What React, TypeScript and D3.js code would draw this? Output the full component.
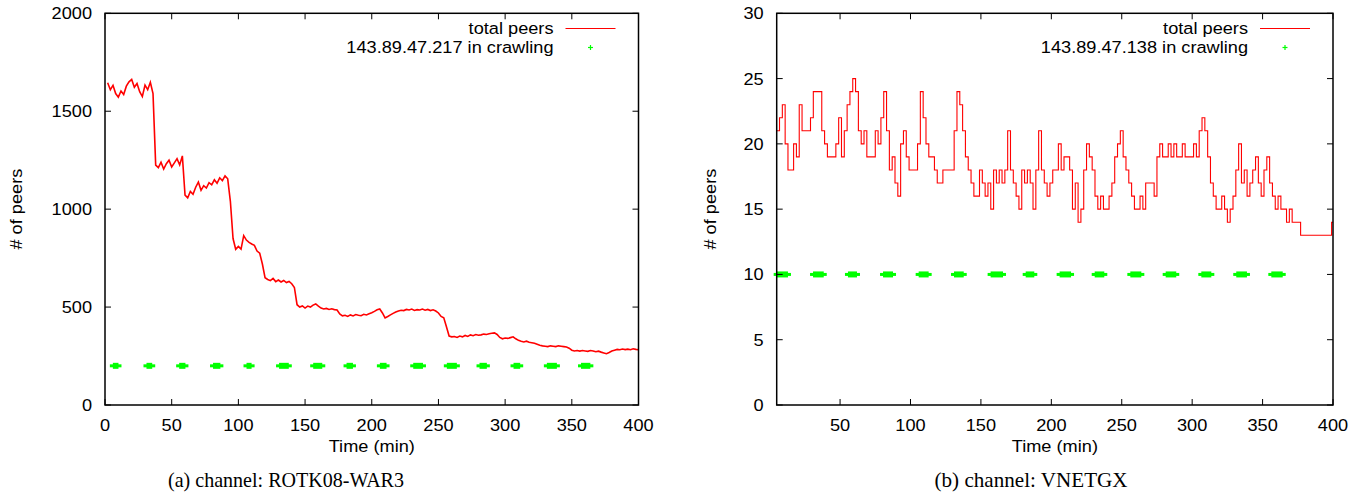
import React from 'react';
import * as d3 from 'd3';

// ---------- DATA ----------
// (a) ROTK08-WAR3: total peers sampled every 2 min starting at t=2
const leftTimeStart = 2;
const leftTimeStep = 2;
const leftPeers = [
  1645, 1610, 1632, 1590, 1572, 1603, 1585, 1628, 1650, 1662,
  1622, 1641, 1600, 1575, 1633, 1610, 1648, 1590, 1225, 1212,
  1240, 1205, 1232, 1250, 1215, 1236, 1258, 1226, 1272, 1072,
  1058, 1090, 1076, 1112, 1138, 1096, 1120, 1108, 1135, 1124,
  1150, 1132, 1160, 1146, 1170, 1155, 1040, 850, 795, 810,
  796, 865, 842, 830, 822, 815, 786, 775, 720, 650,
  641, 635, 646, 630, 638, 628, 636, 625, 631, 619,
  600, 512, 500, 506, 495, 505, 500, 510, 516, 505,
  495, 490, 493, 488, 491, 487, 485, 465, 455, 458,
  452, 460, 455, 462, 458, 456, 463, 460, 466, 471,
  478, 486, 490, 470, 445, 452, 460, 468, 475, 480,
  484, 482, 488, 485, 490, 483, 487, 485, 490, 484,
  488, 482, 486, 480, 470, 452, 445, 400, 352, 348,
  350, 345, 352, 348, 355, 350, 358, 354, 360, 356,
  358, 362, 360, 364, 366, 368, 360, 345, 338, 342,
  340, 344, 348, 338, 330, 325, 322, 326, 320, 318,
  315, 310, 305, 302, 300, 298, 302, 300, 298, 302,
  300, 298, 296, 290, 280, 276, 278, 275, 278, 276,
  274, 278, 276, 272, 275, 270, 266, 262, 268, 276,
  280, 284, 282, 286, 283, 285, 282, 287, 284, 282,
];
// crawl sessions [start, end] in minutes, drawn at the crawl level
const leftCrawls: [number, number][] = [
  [5.9, 10.1], [31.1, 35.4], [55.6, 60.3], [81.0, 86.5], [106.1, 109.9],
  [130.5, 137.8], [156.1, 162.9], [181.1, 185.9], [206.1, 211.1], [231.1, 238.4],
  [256.3, 263.8], [280.8, 286.3], [306.3, 311.3], [331.3, 338.8], [356.9, 363.9],
];
const leftCrawlLevel = 200;
const leftXTicks = [0, 50, 100, 150, 200, 250, 300, 350, 400];
const leftYTicks = [0, 500, 1000, 1500, 2000];
const leftCrawlerLabel = '143.89.47.217 in crawling';
const leftCaption = '(a) channel: ROTK08-WAR3';

// (b) VNETGX: total peers sampled every 2 min starting at t=5
const rightTimeStart = 5;
const rightTimeStep = 2;
const rightPeers = [
  21, 22, 23, 20, 18, 18, 20, 19, 23, 21,
  21, 21, 22, 24, 24, 24, 21, 20, 19, 19,
  19, 20, 22, 19, 21, 23, 24, 25, 24, 21,
  20, 21, 19, 19, 19, 21, 20, 22, 24, 21,
  18, 19, 17, 16, 20, 21, 19, 18, 18, 18,
  20, 24, 22, 20, 19, 19, 18, 17, 17, 18,
  18, 18, 18, 21, 24, 23, 21, 19, 18, 17,
  16, 16, 18, 17, 16, 17, 15, 18, 17, 18,
  17, 18, 21, 18, 17, 16, 15, 18, 17, 18,
  17, 15, 18, 21, 18, 17, 16, 17, 18, 18,
  20, 18, 19, 19, 18, 15, 17, 14, 15, 18,
  20, 19, 18, 16, 15, 16, 15, 15, 16, 17,
  19, 20, 21, 19, 18, 17, 16, 15, 15, 16,
  15, 17, 17, 17, 16, 19, 20, 19, 19, 20,
  19, 20, 19, 19, 20, 19, 19, 19, 20, 19,
  21, 22, 21, 19, 17, 16, 15, 15, 16, 15,
  14, 15, 16, 18, 20, 17, 18, 16, 17, 18,
  19, 17, 16, 18, 19, 17, 16, 15, 16, 15,
  15, 14, 15, 14, 14, 14, 13, 13, 13, 13,
  13, 13, 13, 13, 13, 13, 13, 14,
];
const rightCrawls: [number, number][] = [
  [5.0, 13.0], [30.8, 38.4], [55.6, 62.0], [80.5, 87.6], [105.8, 112.9],
  [130.9, 137.8], [156.9, 165.7], [181.8, 187.9], [205.9, 214.0], [230.8, 237.6],
  [256.1, 263.9], [281.2, 288.7], [306.5, 313.6], [331.3, 338.9], [356.2, 364.3],
];
const rightCrawlLevel = 10;
const rightXTicks = [50, 100, 150, 200, 250, 300, 350, 400];
const rightYTicks = [0, 5, 10, 15, 20, 25, 30];
const rightCrawlerLabel = '143.89.47.138 in crawling';
const rightCaption = '(b) channel: VNETGX';

const totalLabel = 'total peers';
const xAxisLabel = 'Time (min)';
const yAxisLabel = '# of peers';

// ---------- STYLE ----------
const RED = '#ff0000';
const GREEN = '#00ff00';
const SANS = "'Liberation Sans', Arial, Helvetica, sans-serif";
const SERIF = "'Liberation Serif', 'DejaVu Serif', serif";
const FS = 17;
const STRETCH = 1.07;

function Label(props: {
  x: number; y: number; anchor?: string; rotate?: number; size?: number; children: React.ReactNode;
}) {
  const { x, y, anchor = 'start', rotate, size = FS, children } = props;
  const tr = `translate(${x},${y})${rotate ? ` rotate(${rotate})` : ''} scale(${STRETCH},1)`;
  return (
    <g transform={tr}>
      <text textAnchor={anchor as any} fontSize={size} fontFamily={SANS} fill="#000">
        {children}
      </text>
    </g>
  );
}

interface PanelProps {
  left: number; right: number; top: number; bottom: number;
  xDomain: [number, number]; yDomain: [number, number];
  xTicks: number[]; yTicks: number[];
  values: number[]; tStart: number; tStep: number; stepCurve: boolean; lineWidth: number;
  crawls: [number, number][]; crawlLevel: number;
  crawlerLabel: string; yLabelX: number; caption: string; captionWidth: number; captionX: number;
}

function Panel(p: PanelProps) {
  const x = d3.scaleLinear().domain(p.xDomain).range([p.left, p.right]);
  const y = d3.scaleLinear().domain(p.yDomain).range([p.bottom, p.top]);
  const pts: [number, number][] = p.values.map((v, i) => [p.tStart + i * p.tStep, v]);
  if (p.stepCurve) pts.push([p.xDomain[1], p.values[p.values.length - 1]]);
  const line = d3
    .line<[number, number]>()
    .x((d) => x(d[0]))
    .y((d) => y(d[1]))
    .curve(p.stepCurve ? d3.curveStepAfter : d3.curveLinear);
  const tickLen = 6;
  const cx = (p.left + p.right) / 2;
  const cy = (p.top + p.bottom) / 2;
  const arm = 3;
  const legendTextX = p.right - 85;
  const legendLineX0 = p.right - 73;
  const legendLineX1 = p.right - 23;
  const legendY1 = 28.5;
  const legendY2 = 47.5;
  const plusX = (legendLineX0 + legendLineX1) / 2;
  return (
    <g>
      {/* crawler points */}
      {p.crawls.map(([s, e], i) => (
        <g key={'c' + i} fill={GREEN}>
          <rect x={x(s)} y={y(p.crawlLevel) - arm} width={x(e) - x(s)} height={arm * 2} />
          <rect x={x(s) - arm} y={y(p.crawlLevel) - 1.5} width={x(e) - x(s) + 2 * arm} height={3} />
        </g>
      ))}
      {/* total peers line */}
      <path d={line(pts) || ''} fill="none" stroke={RED} strokeWidth={p.lineWidth} strokeLinejoin="miter" />
      {/* ticks */}
      {p.xTicks.map((t) => (
        <g key={'xt' + t} stroke="#000" strokeWidth={1}>
          <line x1={x(t)} x2={x(t)} y1={p.bottom} y2={p.bottom - tickLen} />
          <line x1={x(t)} x2={x(t)} y1={p.top} y2={p.top + tickLen} />
        </g>
      ))}
      {p.yTicks.map((t) => (
        <g key={'yt' + t} stroke="#000" strokeWidth={1}>
          <line x1={p.left} x2={p.left + tickLen} y1={y(t)} y2={y(t)} />
          <line x1={p.right} x2={p.right - tickLen} y1={y(t)} y2={y(t)} />
        </g>
      ))}
      {/* border */}
      <rect x={p.left} y={p.top} width={p.right - p.left} height={p.bottom - p.top} fill="none" stroke="#000" strokeWidth={1.5} />
      {/* tick labels */}
      {p.xTicks.map((t) => (
        <Label key={'xl' + t} x={x(t)} y={p.bottom + 26} anchor="middle">{String(t)}</Label>
      ))}
      {p.yTicks.map((t) => (
        <Label key={'yl' + t} x={p.left - 13} y={y(t) + 6} anchor="end">{String(t)}</Label>
      ))}
      {/* axis labels */}
      <Label x={cx} y={p.bottom + 47} anchor="middle">{xAxisLabel}</Label>
      <Label x={p.yLabelX} y={cy} anchor="middle" rotate={-90}>{yAxisLabel}</Label>
      {/* legend */}
      <Label x={legendTextX} y={34} anchor="end">{totalLabel}</Label>
      <Label x={legendTextX} y={53} anchor="end">{p.crawlerLabel}</Label>
      <line x1={legendLineX0} x2={legendLineX1} y1={legendY1} y2={legendY1} stroke={RED} strokeWidth={1.2} />
      <g stroke={GREEN} strokeWidth={1.2}>
        <line x1={plusX - 2.5} x2={plusX + 2.5} y1={legendY2} y2={legendY2} />
        <line x1={plusX} x2={plusX} y1={legendY2 - 2.5} y2={legendY2 + 2.5} />
      </g>
      {/* caption */}
      <text x={p.captionX} y={487} textAnchor="middle" fontFamily={SERIF} fontSize={22} fill="#000"
        textLength={p.captionWidth} lengthAdjust="spacingAndGlyphs">{p.caption}</text>
    </g>
  );
}

export default function App() {
  return (
    <svg width={1364} height={503} style={{ position: 'absolute', left: 0, top: 0, background: '#fff' }}>
      <rect x={0} y={0} width={1364} height={503} fill="#fff" />
      <Panel
        left={105} right={638.5} top={13.3} bottom={405}
        xDomain={[0, 400]} yDomain={[0, 2000]}
        xTicks={leftXTicks} yTicks={leftYTicks}
        values={leftPeers} tStart={leftTimeStart} tStep={leftTimeStep} stepCurve={false} lineWidth={1.6}
        crawls={leftCrawls} crawlLevel={leftCrawlLevel}
        crawlerLabel={leftCrawlerLabel} yLabelX={22} caption={leftCaption} captionWidth={236} captionX={286}
      />
      <Panel
        left={776.7} right={1333} top={13.3} bottom={405}
        xDomain={[5, 400]} yDomain={[0, 30]}
        xTicks={rightXTicks} yTicks={rightYTicks}
        values={rightPeers} tStart={rightTimeStart} tStep={rightTimeStep} stepCurve={true} lineWidth={1.1}
        crawls={rightCrawls} crawlLevel={rightCrawlLevel}
        crawlerLabel={rightCrawlerLabel} yLabelX={716} caption={rightCaption} captionWidth={193} captionX={1031}
      />
    </svg>
  );
}
